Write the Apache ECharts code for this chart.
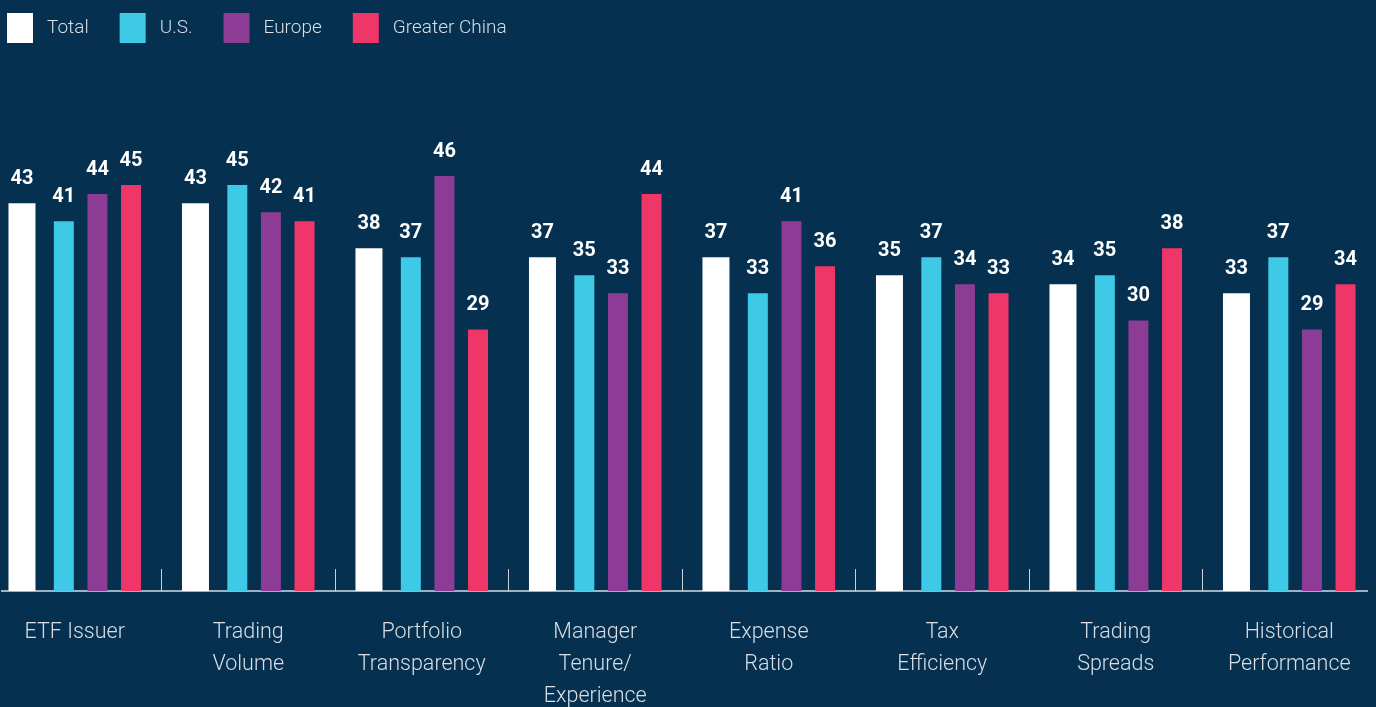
<!DOCTYPE html>
<html>
<head>
<meta charset="utf-8">
<script src="https://cdn.jsdelivr.net/npm/echarts@6/dist/echarts.min.js"></script>
<style>
  html, body { margin: 0; padding: 0; background: #05304f; overflow: hidden; }
  /* 图表整体左移，让第一个类别从画面外开始 */
  #chart { position: absolute; left: -12px; top: 0; width: 1388px; height: 707px; }
</style>
</head>
<body>
<div id="chart"></div>
<script>
// 类别
const categories = [
  "ETF Issuer",
  "Trading\nVolume",
  "Portfolio\nTransparency",
  "Manager\nTenure/\nExperience",
  "Expense\nRatio",
  "Tax\nEfficiency",
  "Trading\nSpreads",
  "Historical\nPerformance",
];
// 数据
const total = [43, 43, 38, 37, 37, 35, 34, 33];
const us = [41, 45, 37, 35, 33, 37, 35, 37];
const europe = [44, 42, 46, 33, 41, 34, 30, 29];
const greaterChina = [45, 41, 29, 44, 36, 33, 38, 34];

const seriesNames = ["Total", "U.S.", "Europe", "Greater China"];
const colors = ["#ffffff", "#3ec9e7", "#8c3c95", "#ef3668"];

const font = "Roboto, 'Helvetica Neue', Arial, sans-serif";
const shift = 12; // 与 #chart 的左移量一致

const makeBar = (name, data, color, width) => ({
  name: name,
  type: "bar",
  data: data,
  barWidth: width,
  barGap: "68%",
  itemStyle: { color: color },
  label: {
    show: true,
    position: "top",
    distance: 14,
    color: "#ffffff",
    fontFamily: font,
    fontWeight: "bold",
    fontSize: 20,
  },
});

var myChart = echarts.init(document.getElementById("chart"), null, { width: 1388, height: 707 });
var option = {
  backgroundColor: "#05304f",
  animation: false,
  color: colors,
  legend: {
    left: 7 + shift,
    top: 13,
    padding: 0,
    itemWidth: 26,
    itemHeight: 30,
    itemGap: 31,
    icon: "rect",
    textStyle: {
      color: "#d9dee5",
      fontFamily: font,
      fontSize: 19,
      fontWeight: 300,
      padding: [0, 0, 0, 9],
    },
    data: seriesNames,
  },
  // 标签超出底部时不要压缩网格
  grid: { left: 0, right: 0, top: 140, height: 451, containLabel: false, outerBoundsMode: "none" },
  xAxis: {
    type: "category",
    data: categories,
    axisLine: { show: false },
    axisTick: {
      show: true,
      inside: true,
      length: 22,
      lineStyle: { color: "#c9d0d8", width: 1 },
    },
    axisLabel: {
      color: "#d9dee5",
      fontFamily: font,
      fontSize: 21.5,
      fontWeight: 300,
      lineHeight: 32,
      margin: 26,
      interval: 0,
    },
  },
  yAxis: { type: "value", min: 0, max: 50, show: false, splitLine: { show: false } },
  graphic: [
    {
      type: "line",
      z: 0,
      shape: { x1: 1 + shift, y1: 591, x2: 1368 + shift, y2: 591 },
      style: { stroke: "#d9dde3", lineWidth: 1.5 },
    },
  ],
  series: [
    makeBar("Total", total, colors[0], 27),
    makeBar("U.S.", us, colors[1], 20),
    makeBar("Europe", europe, colors[2], 20),
    makeBar("Greater China", greaterChina, colors[3], 20),
  ],
};
myChart.setOption(option);
</script>
</body>
</html>
